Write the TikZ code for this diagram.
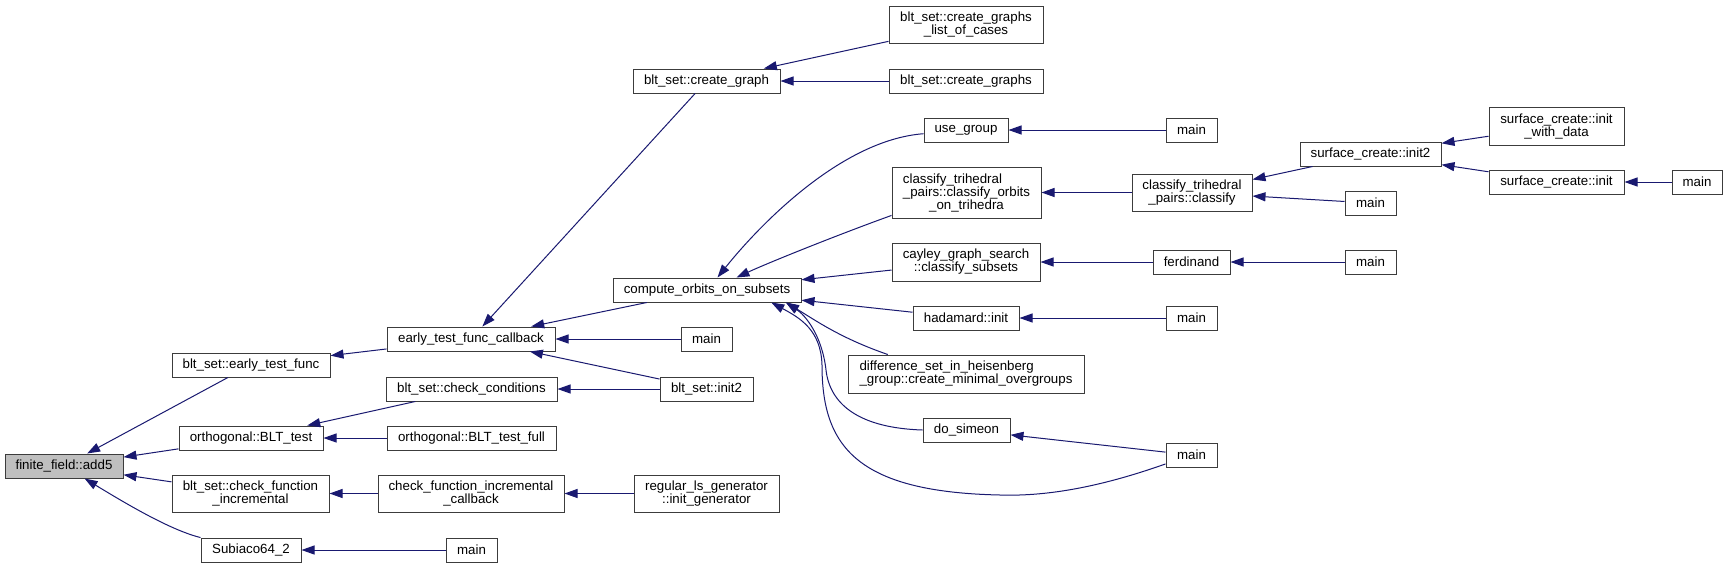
\documentclass[tikz,border=0pt]{standalone}
\usepackage{fontspec}
\setmainfont{Liberation Sans}
\usepackage{calc}
\usetikzlibrary{arrows.meta}
\definecolor{edgecol}{RGB}{25,25,112}
\definecolor{bordercol}{RGB}{60,60,60}
\definecolor{rootfill}{RGB}{191,191,191}
\begin{document}
\begin{tikzpicture}[x=1pt,y=-1pt,
  fn/.style={draw=bordercol, line width=1pt, fill=white, inner sep=0pt, align=center,
             font=\fontsize{13.3pt}{13pt}\selectfont, minimum height=24pt},
  call/.style={draw=edgecol, line width=1pt, arrows={Triangle[length=13pt,width=9pt]-}}]
\fill[white] (0,0) rectangle (1727,568);
\useasboundingbox (0,0) rectangle (1727,568);
% column 0
\node[fn, fill=rootfill, minimum width=118pt] (add5) at (64,466) {finite\_field::add5};
% column 1
\node[fn, minimum width=158pt] (etf) at (251,365) {blt\_set::early\_test\_func};
\node[fn, minimum width=144pt] (blt) at (251,438) {orthogonal::BLT\_test};
\node[fn, minimum width=157pt, minimum height=37pt] (cfi) at (250.5,493.5) {blt\_set::check\_function\\\_incremental};
\node[fn, minimum width=100pt] (sub) at (251,550) {Subiaco64\_2};
% column 2
\node[fn, minimum width=168pt] (etfc) at (471,339) {early\_test\_func\_callback};
\node[fn, minimum width=171pt] (cc) at (471.5,389) {blt\_set::check\_conditions};
\node[fn, minimum width=169pt] (btf) at (471.5,438) {orthogonal::BLT\_test\_full};
\node[fn, minimum width=186pt, minimum height=37pt] (cfic) at (471,493.5) {check\_function\_incremental\\\_callback};
\node[fn, minimum width=51pt] (m1) at (471.5,550) {main};
% column 3
\node[fn, minimum width=147pt] (cg) at (706.5,81) {blt\_set::create\_graph};
\node[fn, minimum width=188pt] (cos) at (707,290) {compute\_orbits\_on\_subsets};
\node[fn, minimum width=51pt] (m2) at (706.5,339) {main};
\node[fn, minimum width=93pt] (bi2) at (706.5,389) {blt\_set::init2};
\node[fn, minimum width=145pt, minimum height=37pt] (rlg) at (706.5,493.5) {regular\_ls\_generator\\::init\_generator};
% column 4
\node[fn, minimum width=154pt, minimum height=37pt] (cgl) at (966,24.5) {blt\_set::create\_graphs\\\_list\_of\_cases};
\node[fn, minimum width=154pt] (cgs) at (966,81) {blt\_set::create\_graphs};
\node[fn, minimum width=84pt] (ug) at (966,130) {use\_group};
\node[fn, minimum width=149pt, minimum height=51pt] (cot) at (966.5,192.5)
  {\makebox[\widthof{\_pairs::classify\_orbits}][l]{classify\_trihedral}\\\_pairs::classify\_orbits\\\_on\_trihedra};
\node[fn, minimum width=148pt, minimum height=38pt] (cay) at (966,262) {cayley\_graph\_search\\::classify\_subsets};
\node[fn, minimum width=106pt] (had) at (966,318) {hadamard::init};
\node[fn, minimum width=236pt, minimum height=38pt, align=left] (dsh) at (966,374) {difference\_set\_in\_heisenberg\\\_group::create\_minimal\_overgroups};
\node[fn, minimum width=87pt] (dos) at (966.5,430) {do\_simeon};
% column 5
\node[fn, minimum width=51pt] (m3) at (1191.5,130) {main};
\node[fn, minimum width=120pt, minimum height=37pt] (ctc) at (1192,192.5) {classify\_trihedral\\\_pairs::classify};
\node[fn, minimum width=77pt] (fer) at (1191.5,262) {ferdinand};
\node[fn, minimum width=51pt] (m4) at (1191.5,318) {main};
\node[fn, minimum width=51pt] (m5) at (1191.5,455) {main};
% column 6
\node[fn, minimum width=141pt] (sci2) at (1370.5,154) {surface\_create::init2};
\node[fn, minimum width=51pt] (m6) at (1370.5,203) {main};
\node[fn, minimum width=51pt] (m7) at (1370.5,262) {main};
% column 7
\node[fn, minimum width=135pt, minimum height=38pt] (scwd) at (1556.5,126) {surface\_create::init\\\_with\_data};
\node[fn, minimum width=135pt] (sci) at (1556.5,182) {surface\_create::init};
% column 8
\node[fn, minimum width=50pt] (m8) at (1697,182) {main};

% edges
\draw[call] (add5) -- (etf);
\draw[call] (add5) -- (blt);
\draw[call] (add5) -- (cfi);
\draw[call] (add5) .. controls (125,503) and (170,530) .. (sub);
\draw[call] (etf) -- (etfc);
\draw[call] (blt) -- (cc);
\draw[call] (blt) -- (btf);
\draw[call] (cfi) -- (cfic);
\draw[call] (sub) -- (m1);
\draw[call] (etfc) -- (cg);
\draw[call] (etfc) -- (cos);
\draw[call] (etfc) -- (m2);
\draw[call] (etfc) -- (bi2);
\draw[call] (cc) -- (bi2);
\draw[call] (cfic) -- (rlg);
\draw[call] (cg) -- (cgl);
\draw[call] (cg) -- (cgs);
\draw[call] (cos.50.2) .. controls (757,228) and (840,140) .. (ug.185);
\draw[call] (cos.23.2) .. controls (770,262) and (840,234) .. (cot.197.5);
\draw[call] (cos) -- (cay);
\draw[call] (cos) -- (had);
\draw[call] (cos.-9) .. controls (815,320) and (840,338) .. (dsh.166.5);
\draw[call] (cos.-9.5) .. controls (805,315) and (822,335) .. (826,370)
  .. controls (830,405) and (860,428) .. (dos.west);
\draw[call] (cos.-11.7) .. controls (800,318) and (821,330) .. (822,365)
  .. controls (822,445) and (855,492) .. (1000,495)
  .. controls (1060,497) and (1120,480) .. (m5.199);
\draw[call] (ug) -- (m3);
\draw[call] (cot) -- (ctc);
\draw[call] (cay) -- (fer);
\draw[call] (had) -- (m4);
\draw[call] (dos) -- (m5);
\draw[call] (ctc) -- (sci2);
\draw[call] (ctc) -- (m6);
\draw[call] (fer) -- (m7);
\draw[call] (sci2) -- (scwd);
\draw[call] (sci2) -- (sci);
\draw[call] (sci) -- (m8);
\end{tikzpicture}
\end{document}
